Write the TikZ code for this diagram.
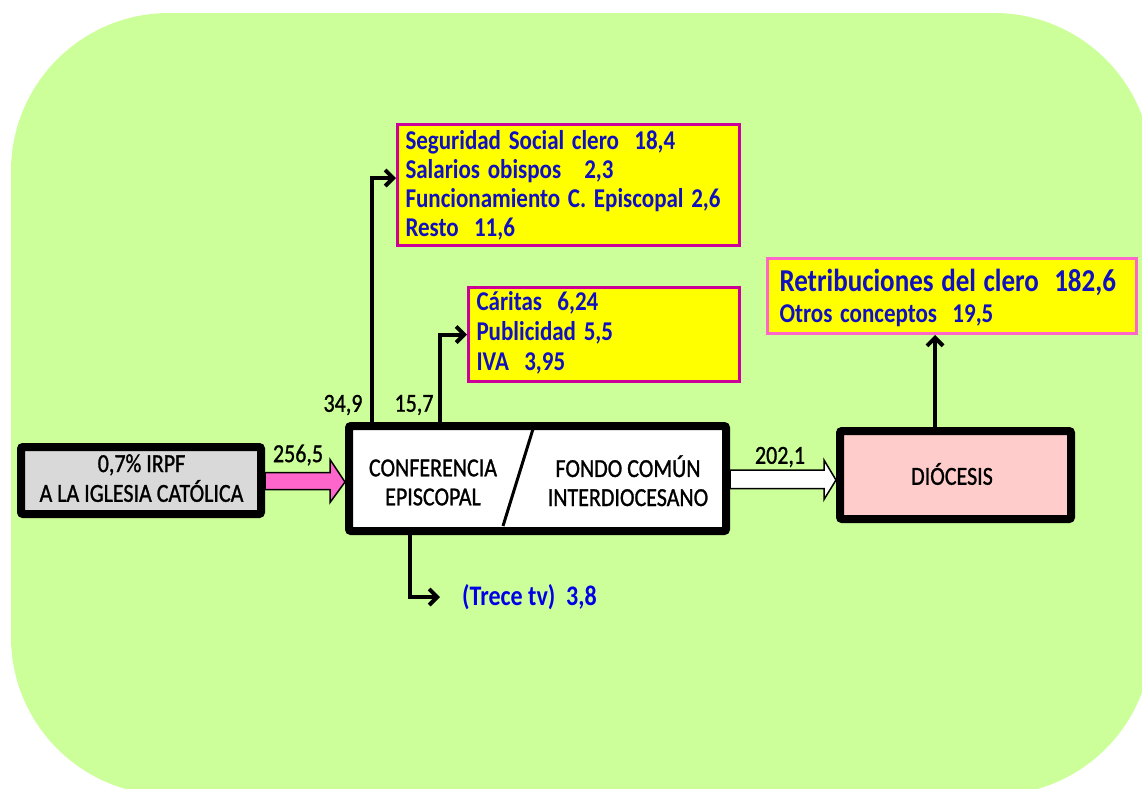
\documentclass[tikz,border=0pt]{standalone}
\usepackage{graphicx}
\usepackage{fontspec}
\setmainfont{Carlito}
\newfontfamily\semib[FakeBold=1.2]{Carlito}
\usetikzlibrary{arrows.meta,calc}
\definecolor{bggreen}{RGB}{204,255,153}
\definecolor{boxyellow}{RGB}{255,255,0}
\definecolor{boxmag}{RGB}{204,0,153}
\definecolor{boxpink}{RGB}{255,102,204}
\definecolor{arrpink}{RGB}{255,102,204}
\definecolor{txtblue}{RGB}{16,16,190}
\definecolor{trblue}{RGB}{0,0,230}
\definecolor{irpfgray}{RGB}{217,217,217}
\definecolor{diocpink}{RGB}{255,204,204}
\newcommand\vs[1]{\scalebox{1}[1.18]{#1}}
\newcommand\lft[1]{\vs{\begin{tabular}{@{}l@{}}#1\end{tabular}}}
\newcommand\ctr[1]{\vs{\begin{tabular}{@{}c@{}}#1\end{tabular}}}
\begin{document}
\begin{tikzpicture}[x=1pt,y=-1pt,
  heavy/.style={draw=black, line width=8pt, inner sep=0pt, rounded corners=2pt},
  ybox/.style={draw=boxmag, line width=3pt, fill=boxyellow, align=left, text=txtblue,
    font=\bfseries\fontsize{23}{24.6}\selectfont, inner xsep=8pt, inner ysep=0pt},
  blk/.style={font=\semib\fontsize{22}{24.6}\selectfont, align=center, inner sep=0pt},
  conn/.style={line width=4pt, -{Straight Barb[length=8pt,width=16pt]}},
  lbl/.style={font=\semib\fontsize{22}{26}\selectfont, inner sep=0pt},
  fatarrow/.style={draw=black, line width=1.5pt, line join=miter},
]
\useasboundingbox (0,0) rectangle (1142,788);
\begin{scope}
  \clip (0,0) rectangle (1142,788);
  \fill[bggreen, rounded corners=158pt] (11,13) rectangle (1152,795);
\end{scope}

% main boxes
\node[heavy, fill=irpfgray, minimum width=240pt, minimum height=67pt] (irpf) at (141,480.5) {};
\node[blk, font=\semib\fontsize{22}{22.9}\selectfont] (irpftxt) at (141.5,481.5) {\ctr{0,7\% IRPF\\A LA IGLESIA CATÓLICA}};
\node[heavy, fill=white, minimum width=377pt, minimum height=105pt] (conf) at (537.5,478.5) {};
\node[heavy, fill=diocpink, minimum width=231pt, minimum height=88pt] (dioc) at (955.5,475) {};
\node[blk] (dioctxt) at (952,474) {\vs{DIÓCESIS}};

\draw[line width=3pt] ($(conf.north west)+(188,7)$) coordinate (dA) -- ($(conf.south west)+(158,-9)$) coordinate (dB);
\node[blk] (cetxt) at (433,485) {\ctr{CONFERENCIA\\EPISCOPAL}};
\node[blk] (fctxt) at (628,485) {\ctr{FONDO COMÚN\\INTERDIOCESANO}};

% yellow boxes
\node[ybox, text width=326pt, minimum height=121pt] (box1) at (568.5,185)
  {\raisebox{-2pt}[\height][\depth]{\lft{Seguridad Social clero\ \ 18,4\\Salarios obispos\ \ \ 2,3\\Funcionamiento C. Episcopal 2,6\\Resto\ \ 11,6}}};
\node[ybox, font=\bfseries\fontsize{23}{25.4}\selectfont, text width=255pt, minimum height=94pt] (box2) at (604,334.5)
  {\lft{Cáritas\ \ 6,24\\Publicidad 5,5\\IVA\ \ 3,95}};
\node[ybox, draw=boxpink, text width=345pt, inner xsep=12pt, minimum height=75pt] (box3) at (952,296)
  {\raisebox{-4pt}[\height][\depth]{\lft{{\fontsize{27}{30}\selectfont Retribuciones del clero\ \ 182,6}\\[2pt]Otros conceptos\ \ 19,5}}};

\node[font=\bfseries\fontsize{24}{29}\selectfont, text=trblue, inner sep=0pt, anchor=west] (trece) at (462,597) {\vs{(Trece tv)\ \ 3,8}};

% fat arrows
\coordinate (pA) at (irpf.east);
\coordinate (pB) at (conf.west |- pA);
\draw[fatarrow, fill=arrpink] ($(pA)+(0,-8)$) -- ($(pB)+(-15,-8)$) -- ($(pB)+(-15,-21)$) -- ($(pB)+(0,1.5)$)
  -- ($(pB)+(-15,22)$) -- ($(pB)+(-15,9)$) -- ($(pA)+(0,9)$) -- cycle;
\coordinate (wA) at (conf.east);
\coordinate (wB) at (dioc.west |- wA);
\draw[fatarrow, fill=white] ($(wA)+(0,-8.5)$) -- ($(wB)+(-12,-8.5)$) -- ($(wB)+(-12,-18.5)$) -- ($(wB)+(0,1.5)$)
  -- ($(wB)+(-12,21)$) -- ($(wB)+(-12,10)$) -- ($(wA)+(0,10)$) -- cycle;

% thin connectors
\draw[conn] ($(conf.north west)+(27,0)$) |- ($(box1.west)+(0,-7)$);
\draw[conn] ($(conf.north west)+(95,0)$) |- (box2.west);
\draw[conn, shorten >=22pt] ($(conf.south west)+(65,0)$) |- (trece.west);
\draw[conn] ($(dioc.north west)+(99,0)$) coordinate (u) -- (u |- box3.south);

% labels
\node[lbl] (l1) at (298,455) {\vs{256,5}};
\node[lbl] (l2) at (343,405) {\vs{34,9}};
\node[lbl] (l3) at (414,405) {\vs{15,7}};
\node[lbl] (l4) at (780,457) {\vs{202,1}};
\end{tikzpicture}
\end{document}
